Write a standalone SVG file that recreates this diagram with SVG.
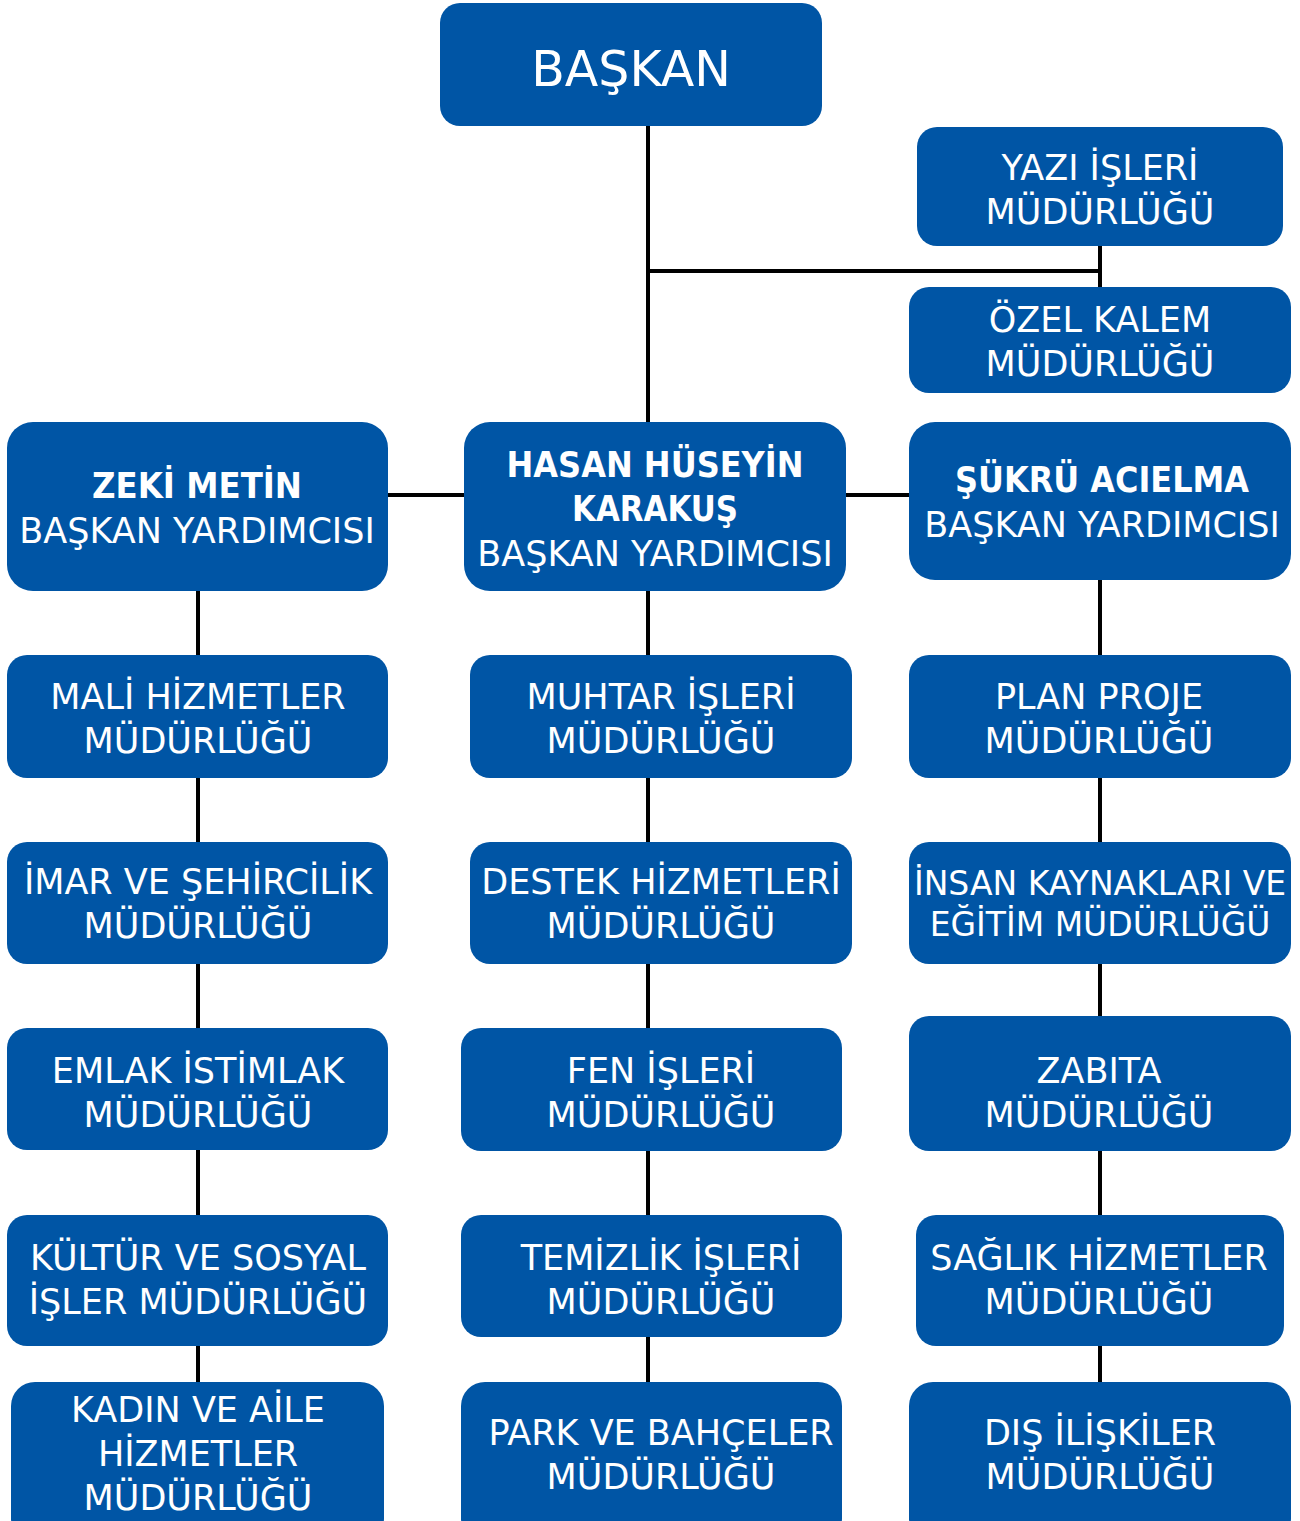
<svg xmlns="http://www.w3.org/2000/svg" width="1300" height="1521" viewBox="0 0 1300 1521">
<style>
.b{fill:#0055A5}
.t{fill:#fff;font-family:"DejaVu Sans","Liberation Sans",sans-serif;font-size:35px;text-anchor:middle}
.bd{font-weight:bold}
.c{stroke:#000;stroke-width:4;fill:none}
</style>
<rect width="1300" height="1521" fill="#fff"/>
<g id="connectors">
<path class="c" d="M648 126V422M648 271H1100M1100 246V287M388 495H464M846 495H909"/>
<path class="c" d="M198 591V1382M648 591V1382M1100 580V1382"/>
</g>
<g id="baskan"><rect class="b" x="440" y="3" width="382" height="123" rx="20"/><text class="t" x="631" y="86" style="font-size:49px">BAŞKAN</text></g>
<g id="yazi"><rect class="b" x="917" y="127" width="366" height="119" rx="20"/><text class="t" x="1100" y="180">YAZI İŞLERİ</text><text class="t" x="1100" y="224">MÜDÜRLÜĞÜ</text></g>
<g id="ozel"><rect class="b" x="909" y="287" width="382" height="106" rx="20"/><text class="t" x="1100" y="332">ÖZEL KALEM</text><text class="t" x="1100" y="376">MÜDÜRLÜĞÜ</text></g>
<g id="zeki"><rect class="b" x="7" y="422" width="381" height="169" rx="26"/><text class="t bd" x="197" y="498" textLength="210" lengthAdjust="spacingAndGlyphs">ZEKİ METİN</text><text class="t" x="197" y="543">BAŞKAN YARDIMCISI</text></g>
<g id="hasan"><rect class="b" x="464" y="422" width="382" height="169" rx="26"/><text class="t bd" x="655" y="477" textLength="297" lengthAdjust="spacingAndGlyphs">HASAN HÜSEYİN</text><text class="t bd" x="655" y="521" textLength="166" lengthAdjust="spacingAndGlyphs">KARAKUŞ</text><text class="t" x="655" y="566">BAŞKAN YARDIMCISI</text></g>
<g id="sukru"><rect class="b" x="909" y="422" width="382" height="158" rx="26"/><text class="t bd" x="1102" y="492" textLength="294" lengthAdjust="spacingAndGlyphs">ŞÜKRÜ ACIELMA</text><text class="t" x="1102" y="537">BAŞKAN YARDIMCISI</text></g>
<g id="mali"><rect class="b" x="7" y="655" width="381" height="123" rx="20"/><text class="t" x="198" y="709">MALİ HİZMETLER</text><text class="t" x="198" y="753">MÜDÜRLÜĞÜ</text></g>
<g id="muhtar"><rect class="b" x="470" y="655" width="382" height="123" rx="20"/><text class="t" x="661" y="709">MUHTAR İŞLERİ</text><text class="t" x="661" y="753">MÜDÜRLÜĞÜ</text></g>
<g id="plan"><rect class="b" x="909" y="655" width="382" height="123" rx="20"/><text class="t" x="1099" y="709">PLAN PROJE</text><text class="t" x="1099" y="753">MÜDÜRLÜĞÜ</text></g>
<g id="imar"><rect class="b" x="7" y="842" width="381" height="122" rx="20"/><text class="t" x="198" y="894">İMAR VE ŞEHİRCİLİK</text><text class="t" x="198" y="938">MÜDÜRLÜĞÜ</text></g>
<g id="destek"><rect class="b" x="470" y="842" width="382" height="122" rx="20"/><text class="t" x="661" y="894">DESTEK HİZMETLERİ</text><text class="t" x="661" y="938">MÜDÜRLÜĞÜ</text></g>
<g id="insan"><rect class="b" x="909" y="842" width="382" height="122" rx="20"/><text class="t" x="1100" y="895" style="font-size:33px">İNSAN KAYNAKLARI VE</text><text class="t" x="1100" y="936" style="font-size:33px">EĞİTİM MÜDÜRLÜĞÜ</text></g>
<g id="emlak"><rect class="b" x="7" y="1028" width="381" height="122" rx="20"/><text class="t" x="198" y="1083">EMLAK İSTİMLAK</text><text class="t" x="198" y="1127">MÜDÜRLÜĞÜ</text></g>
<g id="fen"><rect class="b" x="461" y="1028" width="381" height="123" rx="20"/><text class="t" x="661" y="1083">FEN İŞLERİ</text><text class="t" x="661" y="1127">MÜDÜRLÜĞÜ</text></g>
<g id="zabita"><rect class="b" x="909" y="1016" width="382" height="135" rx="20"/><text class="t" x="1099" y="1083">ZABITA</text><text class="t" x="1099" y="1127">MÜDÜRLÜĞÜ</text></g>
<g id="kultur"><rect class="b" x="7" y="1215" width="381" height="131" rx="20"/><text class="t" x="198" y="1270">KÜLTÜR VE SOSYAL</text><text class="t" x="198" y="1314">İŞLER MÜDÜRLÜĞÜ</text></g>
<g id="temizlik"><rect class="b" x="461" y="1215" width="381" height="122" rx="20"/><text class="t" x="661" y="1270">TEMİZLİK İŞLERİ</text><text class="t" x="661" y="1314">MÜDÜRLÜĞÜ</text></g>
<g id="saglik"><rect class="b" x="916" y="1215" width="368" height="131" rx="20"/><text class="t" x="1099" y="1270">SAĞLIK HİZMETLER</text><text class="t" x="1099" y="1314">MÜDÜRLÜĞÜ</text></g>
<g id="kadin"><rect class="b" x="11" y="1382" width="373" height="160" rx="24"/><text class="t" x="198" y="1422">KADIN VE AİLE</text><text class="t" x="198" y="1466">HİZMETLER</text><text class="t" x="198" y="1510">MÜDÜRLÜĞÜ</text></g>
<g id="park"><rect class="b" x="461" y="1382" width="381" height="160" rx="24"/><text class="t" x="661" y="1445">PARK VE BAHÇELER</text><text class="t" x="661" y="1489">MÜDÜRLÜĞÜ</text></g>
<g id="dis"><rect class="b" x="909" y="1382" width="382" height="160" rx="24"/><text class="t" x="1100" y="1445">DIŞ İLİŞKİLER</text><text class="t" x="1100" y="1489">MÜDÜRLÜĞÜ</text></g>
</svg>
